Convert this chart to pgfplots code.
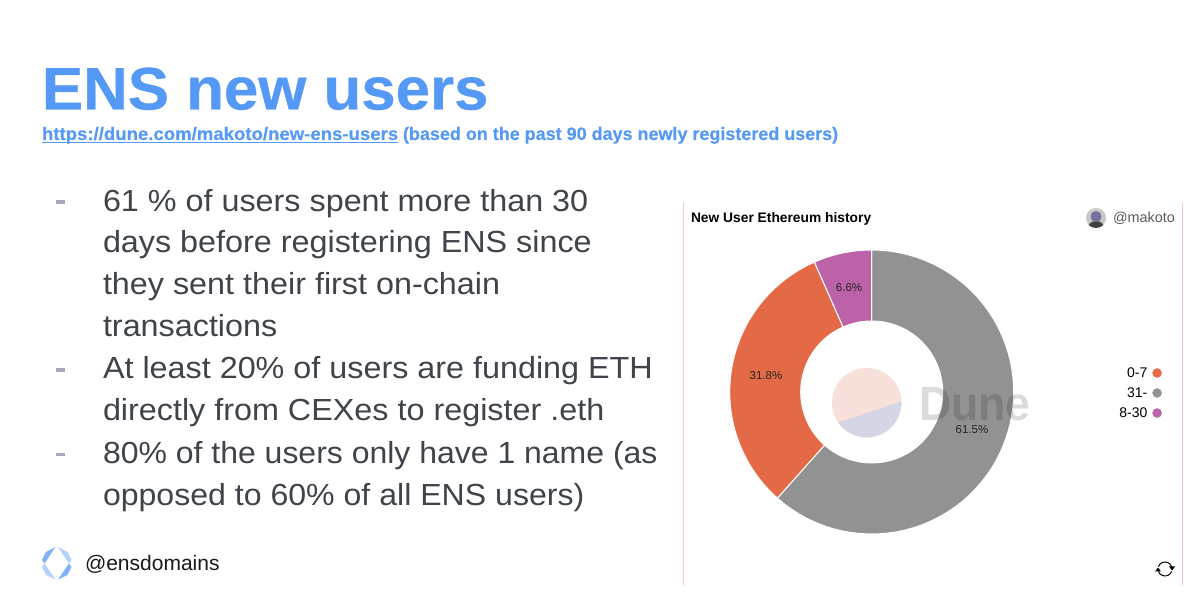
\documentclass[border=0pt]{standalone}
\usepackage{pgfplots}
\usepgfplotslibrary{polar}
\pgfplotsset{compat=1.18}
\usepackage{fontspec}
\setmainfont{Liberation Sans}
\newfontfamily\titlefont[FakeStretch=1.03,FakeBold=0.5]{Liberation Sans}
\newfontfamily\subfont[FakeStretch=1.012,FakeBold=0.2]{Liberation Sans}
\newfontfamily\bodyfont[FakeStretch=1.06]{Liberation Sans}
\definecolor{ensblue}{HTML}{5599F7}
\definecolor{bodygray}{HTML}{3F444B}
\definecolor{dashgray}{HTML}{A6A8B5}
\definecolor{sliceorange}{HTML}{E46A47}
\definecolor{slicegray}{HTML}{929292}
\definecolor{slicepurple}{HTML}{BC62A8}
\definecolor{pinkline}{HTML}{F6C8C2}
\definecolor{logotop}{HTML}{F8E0DA}
\definecolor{logobot}{HTML}{D5D6E5}
\newcommand\fs[1]{\fontsize{#1}{#1}\selectfont}
% wedge outline in polar coordinates from the cumulative shares (total 99.9)
\newcommand\BuildWedge[3]{%
  \gdef#1{}%
  \foreach \i in {0,...,60}{\pgfmathsetmacro\a{450-(#2+(#3-#2)*(\i/60))*3.6036}\xdef#1{#1 (\a,142)}}%
  \foreach \i in {60,59,...,0}{\pgfmathsetmacro\a{450-(#2+(#3-#2)*(\i/60))*3.6036}\xdef#1{#1 (\a,71)}}%
}
\BuildWedge\wedgeGray{0}{61.5}
\BuildWedge\wedgeOrange{61.5}{93.3}
\BuildWedge\wedgePurple{93.3}{99.9}
\begin{document}
\begin{tikzpicture}
\path[use as bounding box,fill=white] (0,0) rectangle (1200pt,607pt);
\begin{scope}[x=1pt,y=-1pt,yshift=607pt]
\tikzset{t/.style={anchor=base west,inner sep=0pt,outer sep=0pt}}
\node[t,text=ensblue] at (42,109.5) {\titlefont\bfseries\fs{60}ENS new users};
\node[t,text=ensblue] at (42,140) {\scalebox{1.02}[1]{\subfont\bfseries\fs{18}https://dune.com/makoto/new-ens-users}};
\node[t,text=ensblue] at (403,140) {\scalebox{.986}[1]{\subfont\bfseries\fs{18}(based on the past 90 days newly registered users)}};
\draw[ensblue,line width=1.3pt] (42,142.6) -- (398,142.6);
\foreach \y/\f/\s in {211.7/1/{61 \% of users spent more than 30},253/1/{days before registering ENS since},295/1/{they sent their first on-chain},337/1/{transactions},379/1/{At least 20\% of users are funding ETH},421/1/{directly from CEXes to register .eth},463.7/.989/{80\% of the users only have 1 name (as},505.7/.992/{opposed to 60\% of all ENS users)}}
  \node[t,text=bodygray] at (103,\y) {\scalebox{\f}[1]{\bodyfont\fs{30.5}\s}};
\foreach \y in {202,370,454.3}
  \fill[dashgray] (56,\y-1.7) rectangle (64.7,\y+1.7);
% footer
\node[t,text=black!90] at (85,570.5) {\fs{21}@ensdomains};
\fill[ensblue!75] (55.5,547) -- (44.5,563.5) -- (42,560) -- (46,552) -- cycle;
\fill[ensblue!45] (58,547) -- (69,563.5) -- (71.5,560) -- (67.5,552) -- cycle;
\fill[ensblue!45] (55.5,579.5) -- (44.5,563.5) -- (42,567) -- (46,575) -- cycle;
\fill[ensblue!75] (58,579.5) -- (69,563.5) -- (71.5,567) -- (67.5,575) -- cycle;
% panel
\draw[pinkline,line width=1pt] (683.5,203) -- (683.5,585);
\draw[pinkline,line width=1pt] (1182,203) -- (1182,585);
\node[t,text=black] at (691,223) {\fs{13.8}\bfseries New User Ethereum history};
\node[t,text=black!65] at (1113,223) {\fs{14.4}@makoto};
\fill[black!22] (1096,218) circle (10);
\begin{scope}
\clip (1096,218) circle (10);
\fill[black!75] (1096,230) circle (9);
\end{scope}
\fill[blue!30!black!55] (1096,216.5) circle (5.5);
\draw[black,line width=1pt] (1165,569) ++(200:7) arc (200:340:7);
\draw[black,line width=1pt] (1165,569) ++(20:7) arc (20:160:7);
\fill[black] (1172,570.5) -- (1169,566.5) -- (1175,566.5) -- cycle;
\fill[black] (1158,567.5) -- (1155,571.5) -- (1161,571.5) -- cycle;
% Dune logo pie
\fill[logotop] (866.7,402.7) circle (34.7);
\begin{scope}
\clip (866.7,402.7) circle (34.7);
\fill[logobot] (901.7,401.4) -- (837.7,422.7) -- (837.7,445) -- (901.7,445) -- cycle;
\end{scope}
\end{scope}
\begin{polaraxis}[
  at={(871.7pt,215pt)},anchor=center,
  scale only axis,width=284pt,height=284pt,
  ymin=0,ymax=142,xmin=0,xmax=360,
  hide axis,clip=false,
]
\edef\tmp{\noexpand\addplot[fill=slicegray,draw=white,line width=1pt,forget plot] coordinates {\wedgeGray} -- cycle;}\tmp
\edef\tmp{\noexpand\addplot[fill=sliceorange,draw=white,line width=1pt,forget plot] coordinates {\wedgeOrange} -- cycle;}\tmp
\edef\tmp{\noexpand\addplot[fill=slicepurple,draw=white,line width=1pt,forget plot] coordinates {\wedgePurple} -- cycle;}\tmp
\node[text=black,opacity=0.14,inner sep=0pt] at (axis cs:353.4,104) {\scalebox{.93}[1]{\bfseries\fs{48}Dune}};
\node[text=black!85,font=\fs{11.5},inner sep=0pt] at (axis cs:102.2,107) {6.6\%};
\node[text=black!85,font=\fs{11.5},inner sep=0pt] at (axis cs:171.2,107) {31.8\%};
\node[text=black!85,font=\fs{11.5},inner sep=0pt] at (axis cs:339.5,107) {61.5\%};
\end{polaraxis}
\begin{axis}[
  at={(1110pt,214pt)},anchor=center,
  scale only axis,width=100pt,height=100pt,
  xmin=0,xmax=1,ymin=0,ymax=1,hide axis,
  legend plot pos=right,
  legend cell align=right,
  legend style={draw=none,fill=none,at={(1.02,0.5)},anchor=east,
    font=\fs{14},row sep=0pt,inner sep=0pt,
    nodes={inner sep=0pt,minimum height=20pt},
    /tikz/every odd column/.append style={column sep=5pt}},
  legend image code/.code={\fill[#1] (4.5pt,0) circle (4.5pt);},
]
\addlegendimage{sliceorange}\addlegendentry{0-7}
\addlegendimage{slicegray}\addlegendentry{31-}
\addlegendimage{slicepurple}\addlegendentry{8-30}
\end{axis}
\end{tikzpicture}
\end{document}
